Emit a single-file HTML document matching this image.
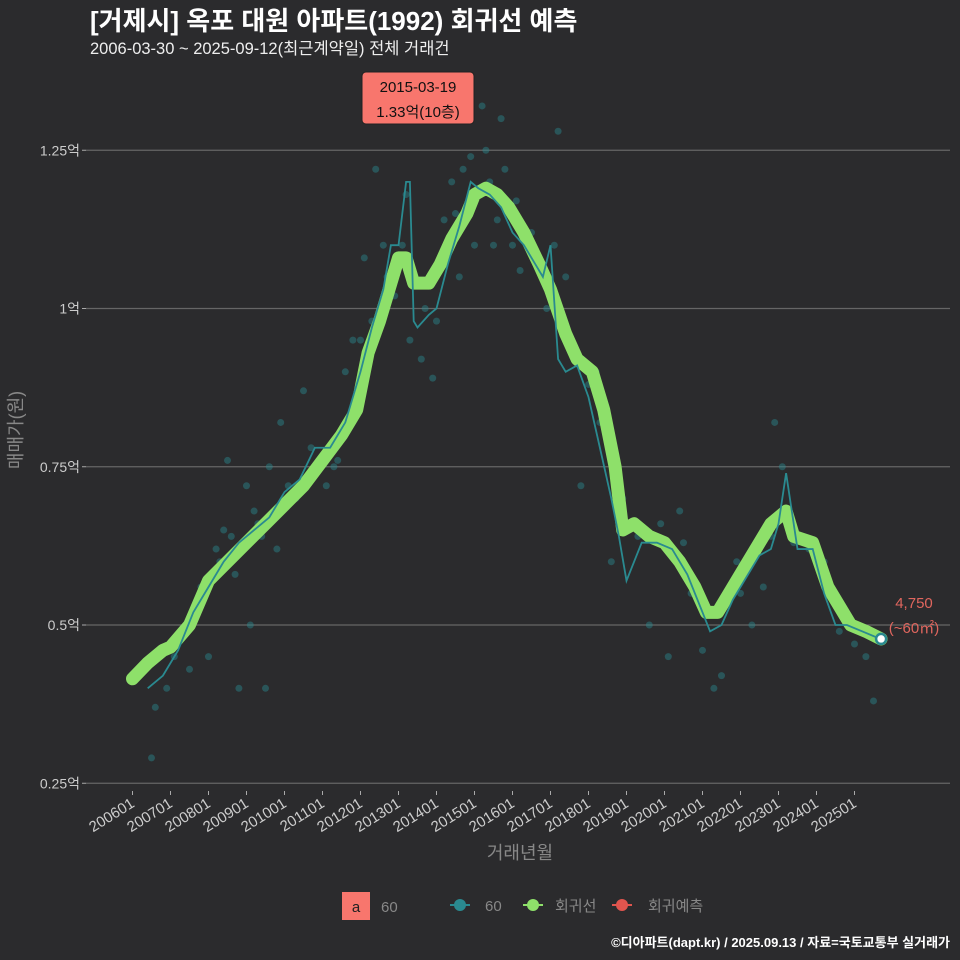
<!DOCTYPE html>
<html><head><meta charset="utf-8"><style>
body{margin:0;background:#2b2b2d;}
svg{display:block;font-family:"Liberation Sans","Noto Sans CJK KR",sans-serif;}
</style></head><body>
<svg width="960" height="960" viewBox="0 0 960 960">
<rect width="960" height="960" fill="#2b2b2d"/>
<text x="90" y="30" fill="#fff" font-size="26" font-weight="bold">[거제시] 옥포 대원 아파트(1992) 회귀선 예측</text>
<text x="90" y="54" fill="#eee" font-size="16.5">2006-03-30 ~ 2025-09-12(최근계약일) 전체 거래건</text>
<g id="grid"></g>
<g id="pts"></g>
<g id="lines"></g>
<g id="xax"></g>
<text transform="translate(22,430) rotate(-90)" text-anchor="middle" fill="#888" font-size="18">매매가(원)</text>
<text x="520" y="859" text-anchor="middle" fill="#888" font-size="18">거래년월</text>
<g>
<rect x="362" y="72" width="112" height="52" rx="4" fill="#f8766d" stroke="#222"/>
<text x="418" y="92" text-anchor="middle" font-size="15" fill="#111">2015-03-19</text>
<text x="418" y="117" text-anchor="middle" font-size="15" fill="#111">1.33억(10층)</text>
</g>
<text x="914" y="608" text-anchor="middle" fill="#e0665e" font-size="15">4,750</text>
<text x="914" y="633" text-anchor="middle" fill="#e0665e" font-size="15">(~60㎡)</text>
<g>
<rect x="342" y="892" width="28" height="28" fill="#f8766d"/>
<text x="356" y="912" text-anchor="middle" font-size="15" fill="#222">a</text>
<text x="381" y="912" font-size="15" fill="#888">60</text>
<g><line x1="450" y1="905" x2="470" y2="905" stroke="#2a8a90" stroke-width="2"/><circle cx="460" cy="905" r="6" fill="#2a8a90"/><text x="485" y="911" font-size="15" fill="#888">60</text></g>
<g><line x1="523" y1="905" x2="543" y2="905" stroke="#8ee06a" stroke-width="2"/><circle cx="533" cy="905" r="6" fill="#8ee06a"/><text x="555" y="911" font-size="15" fill="#888">회귀선</text></g>
<g><line x1="612" y1="905" x2="632" y2="905" stroke="#e0554e" stroke-width="2"/><circle cx="622" cy="905" r="6" fill="#e0554e"/><text x="648" y="911" font-size="15" fill="#888">회귀예측</text></g>
</g>
<text x="950" y="947" text-anchor="end" fill="#fff" font-size="13" font-weight="bold">©디아파트(dapt.kr) / 2025.09.13 / 자료=국토교통부 실거래가</text>
</svg>
<script>
const yTicks=[0.25,0.5,0.75,1,1.25];
const yTickLabels=["0.25억","0.5억","0.75억","1억","1.25억"];
const xTickLabels=["200601","200701","200801","200901","201001","201101","201201","201301","201401","201501","201601","201701","201801","201901","202001","202101","202201","202301","202401","202501"];
const regT=[0,0.4,0.8,1.0,1.5,2.0,2.5,3.0,3.5,4.0,4.5,5.0,5.5,5.9,6.2,6.5,6.8,7.0,7.2,7.4,7.8,8.1,8.4,8.8,9.0,9.3,9.6,9.9,10.3,10.7,11.0,11.4,11.7,12.1,12.4,12.7,12.9,13.2,13.6,14.0,14.4,14.8,15.1,15.4,15.7,16.1,16.5,16.8,17.2,17.4,17.9,18.3,18.6,18.9,19.3,19.7];
const regV=[0.415,0.44,0.46,0.465,0.5,0.57,0.6,0.63,0.66,0.69,0.72,0.76,0.8,0.84,0.93,0.98,1.04,1.08,1.08,1.04,1.04,1.07,1.11,1.15,1.18,1.19,1.18,1.16,1.12,1.07,1.03,0.96,0.92,0.9,0.84,0.75,0.65,0.66,0.64,0.63,0.6,0.56,0.52,0.52,0.55,0.59,0.63,0.66,0.68,0.64,0.63,0.56,0.53,0.5,0.49,0.478];
const monT=[0.4,0.8,1.2,1.6,2.0,2.4,2.8,3.2,3.6,4.0,4.4,4.8,5.2,5.6,6.0,6.3,6.6,6.8,7.0,7.2,7.3,7.4,7.5,7.8,8.0,8.3,8.6,8.9,9.1,9.4,9.7,10.0,10.3,10.6,10.8,11.0,11.2,11.4,11.7,12.0,12.3,12.6,12.8,13.0,13.4,13.8,14.2,14.6,15.0,15.2,15.5,15.8,16.2,16.5,16.8,17.0,17.2,17.5,17.9,18.2,18.5,18.8,19.2,19.6];
const monV=[0.4,0.42,0.46,0.52,0.56,0.6,0.63,0.65,0.67,0.71,0.73,0.78,0.78,0.82,0.9,0.97,1.03,1.1,1.1,1.2,1.2,0.98,0.97,0.99,1.0,1.07,1.13,1.2,1.19,1.18,1.16,1.12,1.1,1.07,1.05,1.1,0.92,0.9,0.91,0.86,0.78,0.7,0.64,0.57,0.63,0.63,0.62,0.58,0.52,0.49,0.5,0.54,0.58,0.61,0.62,0.66,0.74,0.62,0.62,0.55,0.5,0.5,0.49,0.48];
const ptT=[0.5,0.6,0.9,1.1,1.3,1.5,1.8,2.0,2.2,2.4,2.5,2.7,2.8,3.0,3.1,3.2,3.4,3.5,3.6,3.9,4.1,4.3,4.5,4.6,4.9,5.1,5.3,5.6,5.8,6.1,6.4,6.6,6.9,7.1,7.3,7.6,7.9,8.2,8.4,8.6,8.9,9.0,9.2,9.3,9.5,9.7,10.0,10.2,10.4,10.7,10.9,11.2,11.4,11.8,12.0,12.3,12.6,12.9,13.3,13.6,13.9,14.1,14.4,14.7,15.0,15.3,15.5,15.9,16.3,16.6,16.9,17.1,17.4,17.8,18.2,18.6,19.0,19.3,19.5,2.1,2.3,2.6,3.3,3.8,4.2,4.7,5.4,6.0,6.3,6.7,7.2,7.7,8.0,8.5,8.7,9.1,9.4,9.6,9.8,10.1,10.5,10.8,11.1,12.2,13.0,14.5,16.0,16.8,17.6,18.0,18.4,18.8];
const ptV=[0.29,0.37,0.4,0.45,0.48,0.43,0.56,0.45,0.62,0.65,0.76,0.58,0.4,0.72,0.5,0.68,0.64,0.4,0.75,0.82,0.72,0.7,0.87,0.73,0.76,0.72,0.75,0.9,0.95,1.08,1.22,1.1,1.02,1.1,0.95,0.92,0.89,1.14,1.2,1.05,1.24,1.1,1.32,1.25,1.1,1.3,1.1,1.06,1.1,1.07,1.0,1.28,1.05,0.72,0.88,0.82,0.6,0.7,0.64,0.5,0.66,0.45,0.68,0.55,0.46,0.4,0.42,0.6,0.5,0.56,0.82,0.75,0.63,0.62,0.6,0.49,0.47,0.45,0.38,0.57,0.6,0.64,0.66,0.62,0.7,0.78,0.76,0.95,0.98,1.05,1.18,1.0,0.98,1.15,1.22,1.18,1.2,1.14,1.22,1.17,1.12,1.06,1.1,0.9,0.66,0.63,0.55,0.64,0.64,0.6,0.55,0.5];
const NS="http://www.w3.org/2000/svg";
function X(t){return 132.5+t*38.0;}
function Y(v){return 625-(v-0.5)*633;}
function mk(tag,attrs,parent){const e=document.createElementNS(NS,tag);for(const k in attrs)e.setAttribute(k,attrs[k]);document.getElementById(parent).appendChild(e);return e;}
yTicks.forEach((v,i)=>{
 const l=mk('line',{x1:86,x2:950,y1:Y(v),y2:Y(v),stroke:'#666','stroke-width':1.2},'grid');
 
 
 const tk=mk('line',{x1:82,x2:86,y1:Y(v),y2:Y(v),stroke:'#aaa'},'grid');
 
 
 const t=mk('text',{x:80,y:Y(v)+5,'text-anchor':'end',fill:'#ccc','font-size':14},'grid');
 t.textContent=yTickLabels[i];
 
 
});
xTickLabels.forEach((s,i)=>{
 const x=X(i);
 const tk=mk('line',{x1:x,x2:x,y1:791,y2:795,stroke:'#aaa'},'xax');
 
 
 const t=mk('text',{x:x+3,y:806,'text-anchor':'end',fill:'#ccc','font-size':15,transform:`rotate(-32 ${x+3} 806)`},'xax');
 t.textContent=s;
 
 
});
ptT.forEach((t,i)=>{
 const c=mk('circle',{cx:X(t),cy:Y(ptV[i]),r:3.5,fill:'#2a8a90','fill-opacity':0.45},'pts');
 
 
});
const reg=mk('path',{d:regT.map((t,i)=>(i?'L':'M')+X(t)+','+Y(regV[i])).join(''),fill:'none',stroke:'#8ee06a','stroke-width':13,'stroke-linejoin':'round','stroke-linecap':'round'},'lines');


const mon=mk('path',{d:monT.map((t,i)=>(i?'L':'M')+X(t)+','+Y(monV[i])).join(''),fill:'none',stroke:'#2a8a90','stroke-width':1.8},'lines');


const last=regT.length-1;
const pc=mk('circle',{cx:X(regT[last]),cy:Y(regV[last]),r:5,fill:'#fff',stroke:'#2a8a90','stroke-width':2.5},'lines');


</script>
</body></html>
